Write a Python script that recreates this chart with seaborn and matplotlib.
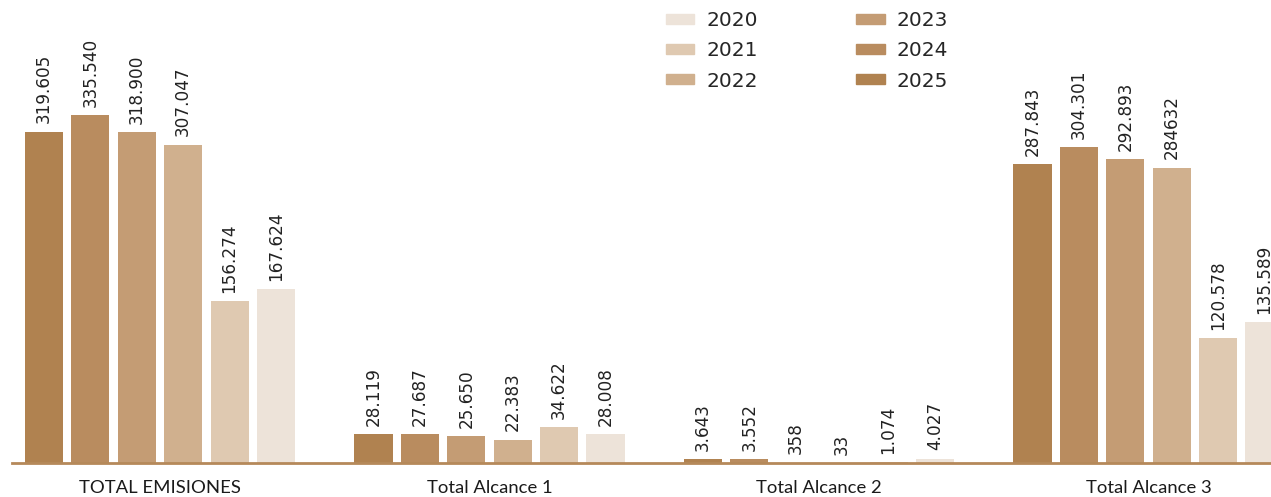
import pandas as pd
from matplotlib import pyplot as plt
from matplotlib.patches import Patch
import seaborn as sns

categories = ["TOTAL EMISIONES", "Total Alcance 1", "Total Alcance 2", "Total Alcance 3"]
years = ["2025", "2024", "2023", "2022", "2021", "2020"]

# values per year, in the order of categories
values = {
    "2025": [319605, 28119, 3643, 287843],
    "2024": [335540, 27687, 3552, 304301],
    "2023": [318900, 25650, 358, 292893],
    "2022": [307047, 22383, 33, 284632],
    "2021": [156274, 34622, 1074, 120578],
    "2020": [167624, 28008, 4027, 135589],
}
labels = {
    "2025": ["319.605", "28.119", "3.643", "287.843"],
    "2024": ["335.540", "27.687", "3.552", "304.301"],
    "2023": ["318.900", "25.650", "358", "292.893"],
    "2022": ["307.047", "22.383", "33", "284632"],
    "2021": ["156.274", "34.622", "1.074", "120.578"],
    "2020": ["167.624", "28.008", "4.027", "135.589"],
}
colors = {
    "2025": "#b08250",
    "2024": "#b98c5f",
    "2023": "#c49c74",
    "2022": "#d0b08e",
    "2021": "#dfc9b1",
    "2020": "#ede3d9",
}

rows = []
for y in years:
    for cat, v in zip(categories, values[y]):
        rows.append({"category": cat, "year": y, "value": v})
df = pd.DataFrame(rows)

sns.set_style("white")
plt.rcParams["font.family"] = ["DejaVu Sans"]

fig = plt.figure(figsize=(12.71, 4.97), dpi=100)
ax = fig.add_axes([12 / 1271, 34 / 497, 1 - 12 / 1271, 463 / 497])

sns.barplot(data=df, x="category", y="value", hue="year", hue_order=years,
            order=categories, palette=colors, width=0.845, gap=0.18,
            saturation=1, linewidth=0, legend=False, ax=ax)

for cont, y in zip(ax.containers, years):
    ax.bar_label(cont, labels=labels[y], rotation=90, padding=6,
                 fontsize=12.2, color="#222222")

# one group every ~329.5 px, first group centred at x=160 px
unit = 329.5
ax.set_xlim(-(160 - 12) / unit, (1271 - 160) / unit)
ax.set_ylim(0, 335540 * 463 / 348)
ax.set_xlabel("")
ax.set_ylabel("")
ax.set_yticks([])
ax.tick_params(axis="x", length=0, pad=12)
for t in ax.get_xticklabels():
    t.set_fontfamily("Lato")
    t.set_fontsize(13.3)
    t.set_color("#1a1a1a")

for s in ["top", "right", "left"]:
    ax.spines[s].set_visible(False)
ax.spines["bottom"].set_color("#b5895a")
ax.spines["bottom"].set_linewidth(2)

legend_order = ["2020", "2021", "2022", "2023", "2024", "2025"]
handles = [Patch(color=colors[y], label=y) for y in legend_order]
fig.legend(handles=handles, ncol=2, loc="upper left",
           bbox_to_anchor=(666 / 1271, 1 - 11 / 497), frameon=False,
           fontsize=14.5, handlelength=1.4, handleheight=0.4,
           handletextpad=0.6, columnspacing=4.9, labelspacing=0.56,
           borderpad=0, borderaxespad=0)

fig.savefig("out.png", dpi=100)
